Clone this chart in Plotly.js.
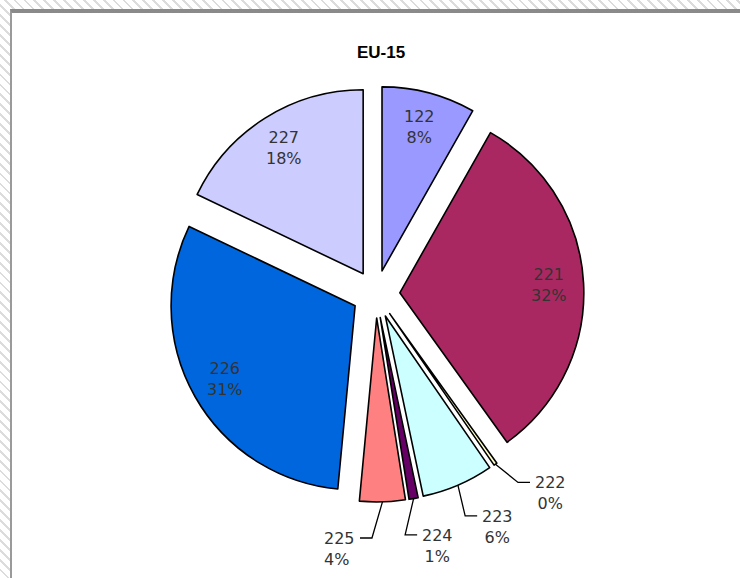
<!DOCTYPE html>
<html>
<head>
<meta charset="utf-8">
<script src="https://cdn.plot.ly/plotly-3.0.1.min.js"></script>
<style>
  html, body { margin: 0; padding: 0; }
  body {
    width: 740px; height: 578px; overflow: hidden; position: relative;
    background: repeating-linear-gradient(45deg, #ffffff 0px, #ffffff 5px, #dcdcdc 5px, #dcdcdc 7px);
  }
  #panel {
    position: absolute; left: 10px; top: 9px; width: 740px; height: 580px;
    background: #ffffff; border-top: 4px solid #8a8a8a; border-left: 2px solid #9a9a9a;
    box-sizing: border-box;
  }
  #chart { position: absolute; left: 0; top: 0; width: 740px; height: 578px; }
</style>
</head>
<body>
<div id="panel"></div>
<div id="chart"></div>
<script>
const categories = ["122", "221", "222", "223", "224", "225", "226", "227"];
const shares = [8.2, 31.9, 0.3, 6.3, 0.8, 4.0, 30.6, 17.9];
const colors = ["#9999FF", "#AA2862", "#FFFFCC", "#CCFFFF", "#660066", "#FF8080", "#0066DD", "#CCCCFF"];
const labelPlacement = ["inside", "inside", "outside", "outside", "outside", "outside", "inside", "inside"];

const W = 740, H = 578;
const dom = { x: [0.227, 0.789], y: [0.1315, 0.851] };
const pullFrac = 0.13;
const labelFont = { family: "DejaVu Sans, Verdana, sans-serif", size: 16, color: "#333333" };

// pie geometry as Plotly computes it from the domain
const cx = (dom.x[0] + dom.x[1]) / 2 * W;
const cy = (1 - (dom.y[0] + dom.y[1]) / 2) * H;
const R = Math.min((dom.x[1] - dom.x[0]) * W, (dom.y[1] - dom.y[0]) * H) / (2 + 2 * pullFrac);
const total = shares.reduce((a, b) => a + b, 0);
const rad = d => d * Math.PI / 180;
const px2x = px => px / W;
const py2y = py => 1 - py / H;

let cum = 0;
const mids = shares.map(v => { const s = cum; cum += v; return (s + cum) / 2 / total * 360; });
const sliceCenter = mids.map(m => [cx + pullFrac * R * Math.sin(rad(m)), cy - pullFrac * R * Math.cos(rad(m))]);
const pctText = shares.map(v => Math.round(v / total * 100) + "%");

const annotations = [];
const shapes = [];

// inside labels along each bisector
shares.forEach((v, i) => {
  if (labelPlacement[i] !== "inside") return;
  const m = rad(mids[i]);
  const k = 0.81 * R;
  const x = sliceCenter[i][0] + k * Math.sin(m);
  const y = sliceCenter[i][1] - k * Math.cos(m);
  annotations.push({
    x: px2x(x), y: py2y(y), xref: "paper", yref: "paper",
    text: categories[i] + "<br>" + pctText[i], showarrow: false,
    xanchor: "center", yanchor: "middle", align: "center", font: labelFont
  });
});

// outside labels: spread angles apart, then draw elbow leader lines
const outIdx = shares.map((v, i) => i).filter(i => labelPlacement[i] === "outside");
const pos = outIdx.map(i => mids[i]);
const sep = 15;
for (let it = 0; it < 200; it++) {
  for (let j = 0; j < pos.length - 1; j++) {
    const d = pos[j + 1] - pos[j];
    if (d < sep) { const s = (sep - d) / 2; pos[j] -= s; pos[j + 1] += s; }
  }
}
outIdx.forEach((i, j) => {
  const p = rad(pos[j]);
  const m = rad(mids[i]);
  const k = 1.2 * R;
  const lx = sliceCenter[i][0] + k * Math.sin(p);
  const ly = sliceCenter[i][1] - k * Math.cos(p);
  const dir = Math.sin(p) >= 0 ? 1 : -1;
  const sx = sliceCenter[i][0] + R * Math.sin(m);
  const sy = sliceCenter[i][1] - R * Math.cos(m);
  const ex = lx - dir * 14, ex2 = lx - dir * 2;
  shapes.push({
    type: "path", xref: "paper", yref: "paper",
    path: `M ${px2x(sx)} ${py2y(sy)} L ${px2x(ex)} ${py2y(ly)} L ${px2x(ex2)} ${py2y(ly)}`,
    line: { color: "#000000", width: 1.3 }
  });
  annotations.push({
    x: px2x(lx + dir * 1), y: py2y(ly - 11), xref: "paper", yref: "paper",
    text: categories[i] + "<br>" + pctText[i], showarrow: false,
    xanchor: dir > 0 ? "left" : "right", yanchor: "top",
    align: dir > 0 ? "center" : "left", font: labelFont
  });
});

const trace = {
  type: "pie",
  labels: categories,
  values: shares,
  sort: false,
  direction: "clockwise",
  rotation: 0,
  pull: pullFrac,
  textinfo: "none",
  marker: { colors: colors, line: { color: "#000000", width: 1.6 } },
  domain: dom,
  hoverinfo: "label+percent",
  showlegend: false
};

const layout = {
  width: W, height: H,
  margin: { l: 0, r: 0, t: 0, b: 0 },
  paper_bgcolor: "rgba(0,0,0,0)",
  plot_bgcolor: "rgba(0,0,0,0)",
  title: {
    text: "<b>EU-15</b>",
    font: { family: "Liberation Sans Narrow, Arial Narrow, Liberation Sans, Arial, sans-serif", size: 17, color: "#000000" },
    x: 0.515, xanchor: "center", y: 0.91, yanchor: "middle"
  },
  annotations: annotations,
  shapes: shapes,
  showlegend: false
};

Plotly.newPlot("chart", [trace], layout, { displayModeBar: false, staticPlot: true });
</script>
</body>
</html>
